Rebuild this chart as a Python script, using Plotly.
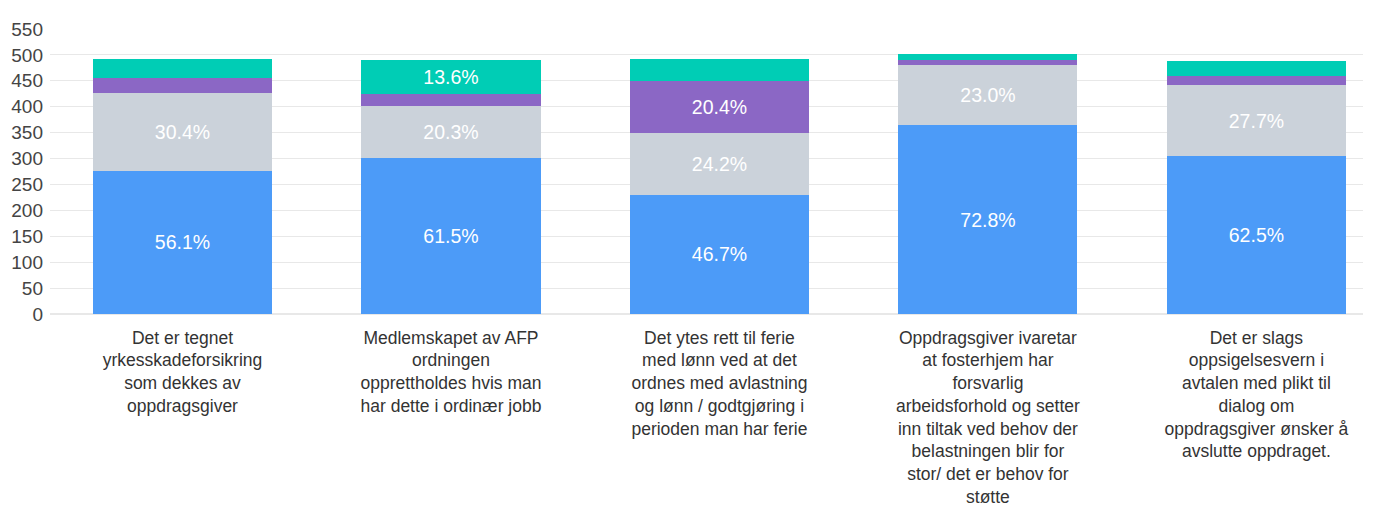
import plotly.graph_objects as go

categories = [
    "Det er tegnet<br>yrkesskadeforsikring<br>som dekkes av<br>oppdragsgiver",
    "Medlemskapet av AFP<br>ordningen<br>opprettholdes hvis man<br>har dette i ordinær jobb",
    "Det ytes rett til ferie<br>med lønn ved at det<br>ordnes med avlastning<br>og lønn / godtgjøring i<br>perioden man har ferie",
    "Oppdragsgiver ivaretar<br>at fosterhjem har<br>forsvarlig<br>arbeidsforhold og setter<br>inn tiltak ved behov der<br>belastningen blir for<br>stor/ det er behov for<br>støtte",
    "Det er slags<br>oppsigelsesvern i<br>avtalen med plikt til<br>dialog om<br>oppdragsgiver ønsker å<br>avslutte oppdraget.",
]

totals = [492, 491, 493, 501, 489]

pct_blue = [56.1, 61.5, 46.7, 72.8, 62.5]
pct_grey = [30.4, 20.3, 24.2, 23.0, 27.7]
pct_purple = [6.2, 4.6, 20.4, 2.0, 3.9]
pct_teal = [7.3, 13.6, 8.7, 2.2, 5.9]

series = [
    ("blue", pct_blue, "#4c9bf8"),
    ("grey", pct_grey, "#cbd2da"),
    ("purple", pct_purple, "#8b67c5"),
    ("teal", pct_teal, "#00cdb5"),
]

x_pos = list(range(len(categories)))
FONT = "Liberation Sans, Arial, sans-serif"

fig = go.Figure()
for name, pcts, color in series:
    counts = [p * t / 100 for p, t in zip(pcts, totals)]
    texts = [f"{p:.1f}%" if p >= 10 else "" for p in pcts]
    fig.add_trace(go.Bar(
        x=x_pos, y=counts, name=name, marker_color=color,
        marker_line_width=0, width=0.667,
        text=texts, textposition="inside", insidetextanchor="middle",
        textangle=0, textfont=dict(color="white", size=19.5, family=FONT),
        hoverinfo="skip",
    ))

fig.update_layout(
    barmode="stack",
    width=1375, height=501,
    margin=dict(l=42, r=20, t=21, b=195, autoexpand=False),
    plot_bgcolor="white", paper_bgcolor="white",
    showlegend=False,
    font=dict(family=FONT, size=17.5, color="#333333"),
    xaxis=dict(
        tickmode="array", tickvals=x_pos, ticktext=categories,
        range=[-0.4935, 4.397], showgrid=False, zeroline=False,
        showline=False, ticks="", tickangle=0, automargin=False,
        tickfont=dict(size=17.5, color="#333333"),
        ticklabelstandoff=11,
    ),
    yaxis=dict(
        range=[0, 550], dtick=50, showgrid=True, gridcolor="#e8e8e8",
        gridwidth=1, zeroline=True, zerolinecolor="#e8e8e8", showline=False,
        ticks="", tickfont=dict(size=19, color="#444444"), automargin=False,
        ticklabelstandoff=6,
    ),
)

fig.write_html("out.html")
